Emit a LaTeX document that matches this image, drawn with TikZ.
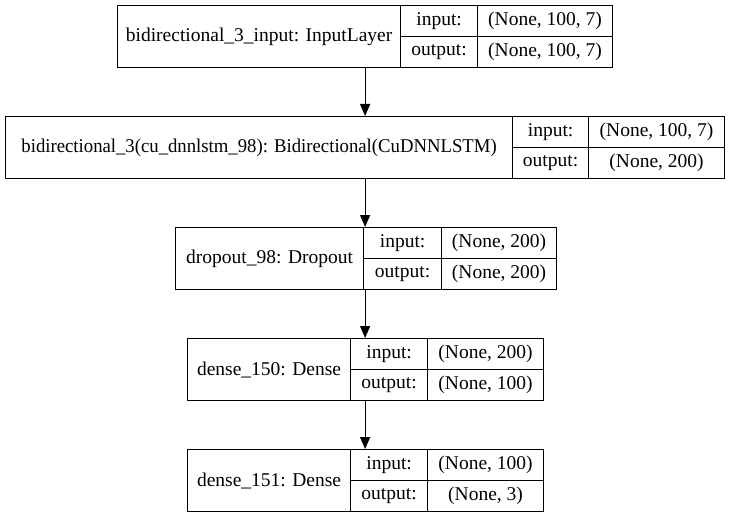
\documentclass[tikz,border=0pt]{standalone}
\usepackage{fontspec}
\setmainfont{Liberation Serif}
\usetikzlibrary{arrows.meta}

\tikzset{
  cell/.style={draw,rectangle,anchor=north west,inner sep=0pt,line width=1.2pt,
    font=\fontsize{19.5}{22}\selectfont},
  namecell/.style={cell,minimum height=62pt},
  portcell/.style={cell,minimum height=31pt},
  flow/.style={line width=1.2pt,-{Triangle[length=12pt,width=10pt]}}
}

\begin{document}
\begin{tikzpicture}[x=1pt,y=-1pt]
  \useasboundingbox (0,0) rectangle (731,516);

  % input layer
  \node (L1) at (117,5) [namecell,minimum width=495pt] {};
  \node (n1) at (117,5) [namecell,minimum width=283pt] {bidirectional\_3\_input: InputLayer};
  \node (i1) at (400,5) [portcell,minimum width=77pt] {input:};
  \node (iv1) at (477,5) [portcell,minimum width=135pt] {(None, 100, 7)};
  \node (o1) at (400,36) [portcell,minimum width=77pt] {output:};
  \node (ov1) at (477,36) [portcell,minimum width=135pt] {(None, 100, 7)};

  % bidirectional lstm
  \node (L2) at (5,116) [namecell,minimum width=719pt] {};
  \node (n2) at (5,116) [namecell,minimum width=507pt] {\scalebox{0.96}[1]{bidirectional\_3(cu\_dnnlstm\_98): Bidirectional(CuDNNLSTM)}};
  \node (i2) at (512,116) [portcell,minimum width=76pt] {input:};
  \node (iv2) at (588,116) [portcell,minimum width=136pt] {(None, 100, 7)};
  \node (o2) at (512,147) [portcell,minimum width=76pt] {output:};
  \node (ov2) at (588,147) [portcell,minimum width=136pt] {(None, 200)};

  % dropout
  \node (L3) at (175,227) [namecell,minimum width=381pt] {};
  \node (n3) at (175,227) [namecell,minimum width=188pt] {dropout\_98: Dropout};
  \node (i3) at (363,227) [portcell,minimum width=78pt] {input:};
  \node (iv3) at (441,227) [portcell,minimum width=115pt] {(None, 200)};
  \node (o3) at (363,258) [portcell,minimum width=78pt] {output:};
  \node (ov3) at (441,258) [portcell,minimum width=115pt] {(None, 200)};

  % dense 150
  \node (L4) at (187,338) [namecell,minimum width=356pt] {};
  \node (n4) at (187,338) [namecell,minimum width=163pt] {dense\_150: Dense};
  \node (i4) at (350,338) [portcell,minimum width=77pt] {input:};
  \node (iv4) at (427,338) [portcell,minimum width=116pt] {(None, 200)};
  \node (o4) at (350,369) [portcell,minimum width=77pt] {output:};
  \node (ov4) at (427,369) [portcell,minimum width=116pt] {(None, 100)};

  % dense 151
  \node (L5) at (187,449) [namecell,minimum width=356pt] {};
  \node (n5) at (187,449) [namecell,minimum width=163pt] {dense\_151: Dense};
  \node (i5) at (350,449) [portcell,minimum width=77pt] {input:};
  \node (iv5) at (427,449) [portcell,minimum width=116pt] {(None, 100)};
  \node (o5) at (350,480) [portcell,minimum width=77pt] {output:};
  \node (ov5) at (427,480) [portcell,minimum width=116pt] {(None, 3)};

  \draw[flow] (L1.south) to (L1.south |- L2.north);
  \draw[flow] (L1.south |- L2.south) to (L1.south |- L3.north);
  \draw[flow] (L1.south |- L3.south) to (L1.south |- L4.north);
  \draw[flow] (L1.south |- L4.south) to (L1.south |- L5.north);
\end{tikzpicture}
\end{document}
